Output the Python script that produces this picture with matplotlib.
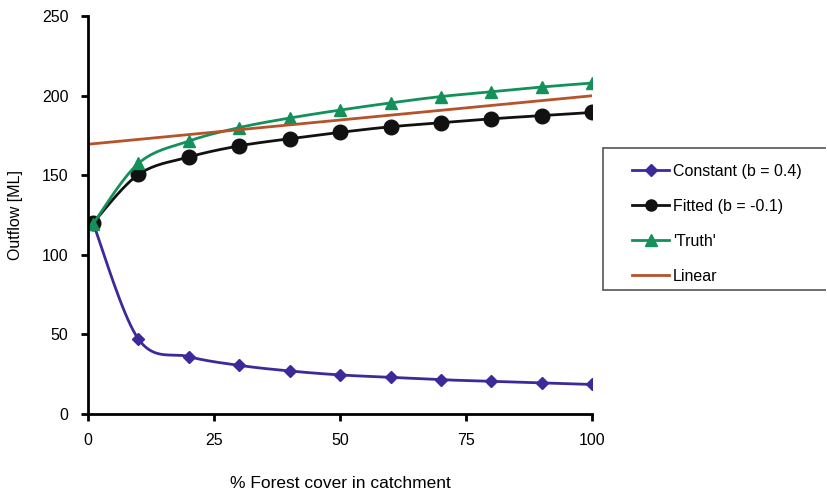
import numpy as np
import matplotlib.pyplot as plt
from matplotlib.lines import Line2D

# forest cover (%) and outflow (ML)
cover = [1, 10, 20, 30, 40, 50, 60, 70, 80, 90, 100]
constant = [120, 47, 36, 30.5, 27, 24.5, 23, 21.5, 20.5, 19.5, 18.5]
fitted = [120, 150.5, 161.5, 168.5, 173, 177, 180.5, 183, 185.5, 187.5, 189.5]
truth = [119.5, 157.5, 171.5, 180, 186, 191, 195.5, 199.5, 202.5, 205.5, 208]
lin_x = [0, 100]
lin_y = [169.5, 200]


def smooth(x, y, n=20):
    # Catmull-Rom curve through the points, like Excel's smoothed line
    x = np.asarray(x, float)
    y = np.asarray(y, float)
    px = np.concatenate([[x[0]], x, [x[-1]]])
    py = np.concatenate([[y[0]], y, [y[-1]]])
    xs, ys = [], []
    t = np.linspace(0, 1, n)
    for i in range(1, len(px) - 2):
        for p, out in ((px, xs), (py, ys)):
            p0, p1, p2, p3 = p[i - 1], p[i], p[i + 1], p[i + 2]
            out.extend(0.5 * ((2 * p1) + (-p0 + p2) * t
                              + (2 * p0 - 5 * p1 + 4 * p2 - p3) * t ** 2
                              + (-p0 + 3 * p1 - 3 * p2 + p3) * t ** 3))
    return xs, ys


plt.rcParams['font.family'] = ['Liberation Sans', 'DejaVu Sans']
fig = plt.figure(figsize=(8.28, 4.91), dpi=100)
ax = fig.add_axes([0.1063, 0.157, 0.609, 0.81])

c_const = '#3b2a99'
c_fit = '#111111'
c_truth = '#14915a'
c_lin = '#b5532b'

ax.plot(*smooth(cover, constant), color=c_const, lw=2)
ax.plot(cover, constant, 'D', color=c_const, ms=6)
ax.plot(*smooth(cover, fitted), color=c_fit, lw=2)
ax.plot(cover, fitted, 'o', color=c_fit, ms=10.5)
ax.plot(*smooth(cover, truth), color=c_truth, lw=2)
ax.plot(cover, truth, '^', color=c_truth, ms=8)
ax.plot(lin_x, lin_y, color=c_lin, lw=2)

# legend handles
h1, = ax.plot([], [], '-D', color=c_const, lw=2, ms=6, label='Constant (b = 0.4)')
h2, = ax.plot([], [], '-o', color=c_fit, lw=2, ms=8, label='Fitted (b = -0.1)')
h3, = ax.plot([], [], '-^', color=c_truth, lw=2, ms=8, label="'Truth'")
h4, = ax.plot([], [], '-', color=c_lin, lw=2, label='Linear')

ax.set_xlim(0, 100)
ax.set_ylim(0, 250)
ax.set_xticks([0, 25, 50, 75, 100])
ax.set_yticks([0, 50, 100, 150, 200, 250])
for s in ['top', 'right']:
    ax.spines[s].set_visible(False)
for s in ['left', 'bottom']:
    ax.spines[s].set_linewidth(2)
ax.tick_params(direction='out', length=5, width=2, labelsize=11.5, pad=9)
ax.set_xlabel('% Forest cover in catchment', fontsize=12.5, labelpad=20)
ax.set_ylabel('Outflow [ML]', fontsize=11.5, labelpad=14)

# legend box runs off the right edge of the image: draw top, left and bottom sides
x0, y0, y1 = 0.728, 0.409, 0.699
fig.lines.append(Line2D([x0, 0.998], [y1, y1], transform=fig.transFigure,
                        color='#555555', lw=1.2, solid_capstyle='butt'))
fig.lines.append(Line2D([x0, 0.998], [y0, y0], transform=fig.transFigure,
                        color='#555555', lw=1.2, solid_capstyle='butt'))
fig.lines.append(Line2D([x0, x0], [y0, y1], transform=fig.transFigure,
                        color='#555555', lw=1.2, solid_capstyle='projecting'))
fig.legend(handles=[h1, h2, h3, h4], loc='center left',
           bbox_to_anchor=(0.7635, 0.544), fontsize=11.5, frameon=False,
           labelspacing=1.25, handlelength=2.3, handletextpad=0.25,
           borderpad=0, borderaxespad=0)

plt.savefig('out.png', dpi=100)
